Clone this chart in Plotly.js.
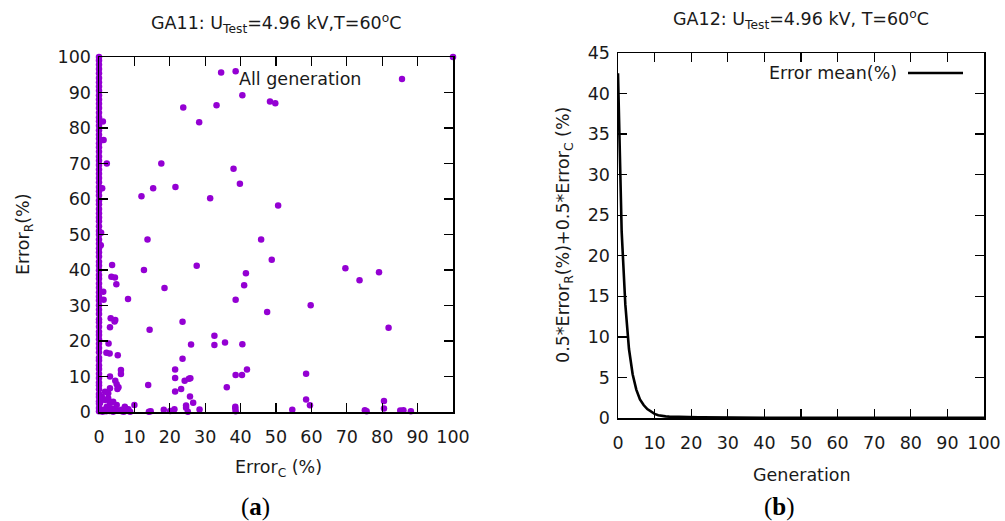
<!DOCTYPE html>
<html>
<head>
<meta charset="utf-8">
<script src="https://cdn.plot.ly/plotly-3.0.1.min.js"></script>
<style>html,body{margin:0;padding:0;background:#fff;}#chart{width:1005px;height:521px;}</style>
</head>
<body>
<div id="chart"></div>
<script>
// ---- Panel (a): all generations, Error_C vs Error_R ----
// dense column of individuals with Error_C ~ 0
const colErrR = [0.2,1.1,2.3,3.0,4.2,5.1,6.4,7.5,8.3,9.6,10.8,12.1,13.2,14.5,15.3,16.8,18.0,19.2,20.5,21.7,22.6,24.0,25.3,26.1,27.6,28.8,30.1,31.4,32.5,33.7,35.0,36.2,37.5,38.6,39.9,41.2,42.3,43.8,45.0,46.1,47.4,48.6,49.9,51.0,52.3,53.7,54.8,56.0,57.2,58.5,59.6,61.0,62.2,63.4,64.7,65.9,67.1,68.3,69.6,70.8,72.0,73.3,74.6,75.7,77.0,78.1,79.4,80.6,81.9,83.0,84.3,85.6,86.8,88.0,89.2,90.5,91.7,92.9,94.1,95.4,96.6,97.8,99.0,100.0];
const colErrC = [0,0,0,0,0,0,0,0,0,0,0,0,0,0,0,0,0,0,0,0,0,0,0,0,0,0,0,0,0,0,0,0,0,0,0,0,0,0,0,0,0,0,0,0,0,0,0,0,0,0,0,0,0,0,0,0,0,0,0,0,0,0,0,0,0,0,0,0,0,0,0,0,0,0,0,0,0,0,0,0,0,0,0,0];

const errC = [34.5,38.6,100,40.5,23.8,33.2,48.3,49.8,28.3,17.6,38.0,12.0,15.3,21.6,39.8,31.4,50.6,13.7,45.8,48.8,
  1.1,1.3,2.2,0.9,0.6,0.5,
  3.7,12.7,27.6,69.6,73.6,79.1,41.5,41.0,3.5,4.5,4.9,1.2,1.3,8.2,18.5,38.6,59.8,47.5,81.8,3.3,4.6,4.4,3.1,14.3,23.6,32.6,32.6,35.6,40.5,26.0,2.7,2.1,3.0,5.3,23.6,21.5,41.8,58.5,6.2,6.2,3.1,21.5,25.8,25.4,38.6,40.4,24.2,4.6,5.0,5.5,5.2,13.9,36.1,23.2,21.5,25.7,58.5,26.6,80.5,59.6,10.0,38.5,38.5,24.6,24.6,80.5,
  14.1,14.6,18.3,20.1,21.3,25.1,28.4,38.6,54.6,75.1,75.6,85.1,86.0,88.1,8.3,7.3,8.8,6.5,5.5,4.5,3.6,2.2,1.2,0.8,1.7,2.6,3.1,4.0,5.0,0.3,2.6,1.7,3.1,2.0,3.0,1.0,6.4,7.0,4.0,2.8];
const errR = [95.6,96.0,100,89.2,85.8,86.4,87.5,87.0,81.6,70.0,68.5,60.8,63.0,63.4,64.3,60.2,58.2,48.6,48.6,42.9,
  81.8,76.6,70.0,63.0,50.5,47.0,
  41.4,40.0,41.2,40.5,37.1,39.4,39.1,35.7,38.1,37.9,36.0,33.9,31.6,31.8,34.9,31.6,30.1,28.2,23.7,26.4,25.9,25.5,23.9,23.2,25.4,21.5,18.9,19.6,19.1,19.0,19.3,16.7,16.5,16.0,15.0,12.0,12.0,10.8,11.8,10.7,10.0,9.6,9.5,9.4,10.4,10.4,8.8,8.8,7.8,7.0,6.5,7.6,7.0,6.5,5.8,4.4,3.5,2.6,3.1,1.9,2.0,1.5,1.0,1.8,1.2,1.0,
  0.1,0.2,0.6,0.3,0.8,0.1,0.7,0.2,0.6,0.5,0.2,0.4,0.5,0.2,0.8,1.5,0.1,0.2,0.4,0.6,1.0,1.5,0.6,4.3,3.4,3.9,2.5,2.9,2.0,2.5,5.3,5.7,6.7,0.2,0.3,0.1,0.6,0.1,0.1,0.5];

// ---- Panel (b): error mean per generation ----
const generation = [0,1,2,3,4,5,6,7,8,9,10,11,12,13,14,15,16,17,18,19,20,21,22,23,24,25,26,27,28,29,30,31,32,33,34,35,36,37,38,39,40,41,42,43,44,45,46,47,48,49,50,51,52,53,54,55,56,57,58,59,60,61,62,63,64,65,66,67,68,69,70,71,72,73,74,75,76,77,78,79,80,81,82,83,84,85,86,87,88,89,90,91,92,93,94,95,96,97,98,99,100];
const errorMean = [42.5,23.0,14.0,8.5,5.4,3.5,2.3,1.6,1.1,0.75,0.5,0.35,0.25,0.2,0.17,0.15,0.14,0.13,0.12,0.12,0.11,0.1,0.1,0.09,0.08,0.08,0.07,0.06,0.05,0.04,0.03,0.03,0.02,0.02,0.01,0.01,0.01,0.01,0.01,0.01,0.01,0.01,0.01,0.01,0.01,0.01,0.01,0.01,0.01,0.01,0.01,0.01,0.01,0.01,0.01,0.01,0.01,0.01,0.01,0.01,0.01,0.01,0.01,0.01,0.01,0.01,0.01,0.01,0.01,0.01,0.01,0.01,0.01,0.01,0.01,0.01,0.01,0.01,0.01,0.01,0.01,0.01,0.01,0.01,0.01,0.01,0.01,0.01,0.01,0.01,0.01,0.01,0.01,0.01,0.01,0.01,0.01,0.01,0.01,0.01,0.01];

const tickVals = [0,10,20,30,40,50,60,70,80,90,100];
const tickValsB = [0,5,10,15,20,25,30,35,40,45];

const PURPLE = '#9400D3';
const FONT = 'DejaVu Sans, sans-serif';
const TXT = '#1a1a1a';

const traces = [
  {x: colErrC, y: colErrR, type: 'scatter', mode: 'markers', xaxis: 'x', yaxis: 'y',
   marker: {color: PURPLE, size: 6.5}, cliponaxis: false, showlegend: false, hoverinfo: 'x+y'},
  {x: errC, y: errR, type: 'scatter', mode: 'markers', xaxis: 'x', yaxis: 'y',
   marker: {color: PURPLE, size: 6.5}, cliponaxis: false, showlegend: false, hoverinfo: 'x+y'},
  {x: generation, y: errorMean, type: 'scatter', mode: 'lines', xaxis: 'x2', yaxis: 'y2',
   line: {color: '#000', width: 2.6}, cliponaxis: false, showlegend: false}
];

function axis(extra) {
  return Object.assign({
    showgrid: false, zeroline: false, showline: true, linecolor: '#000', linewidth: 1.5,
    mirror: 'ticks', ticks: 'inside', ticklen: 9, tickwidth: 1.3, tickcolor: '#000',
    tickfont: {family: FONT, size: 17.5, color: TXT}, fixedrange: true
  }, extra);
}

const ann = (text, x, y, opts) => Object.assign({
  text, x, y, xref: 'paper', yref: 'paper', showarrow: false,
  xanchor: 'center', yanchor: 'middle', font: {family: FONT, size: 17.5, color: TXT}
}, opts || {});

const H = 521, W = 1005;
const px = v => v / W, py = v => 1 - v / H;

const layout = {
  width: W, height: H,
  margin: {l: 0, r: 0, t: 0, b: 0},
  paper_bgcolor: '#fff', plot_bgcolor: '#fff',
  showlegend: false,
  xaxis: axis({domain: [px(99), px(453)], range: [0, 100], tickvals: tickVals, anchor: 'y', ticklabelstandoff: 8}),
  yaxis: axis({domain: [py(412), py(57)], range: [0, 100], tickvals: tickVals, anchor: 'x', ticklabelstandoff: 3}),
  xaxis2: axis({domain: [px(618), px(984)], range: [0, 100], tickvals: tickVals, anchor: 'y2', ticklabelstandoff: 8}),
  yaxis2: axis({domain: [py(418), py(53)], range: [0, 45], tickvals: tickValsB, anchor: 'x2', ticklabelstandoff: 3}),
  annotations: [
    ann('GA11: U<sub>Test</sub>=4.96 kV,T=60<sup>o</sup>C', px(276), py(23)),
    ann('GA12: U<sub>Test</sub>=4.96 kV, T=60<sup>o</sup>C', px(801), py(20)),
    ann('Error<sub>C</sub> (%)', px(278), py(468)),
    ann('Generation', px(802), py(475)),
    ann('Error<sub>R</sub>(%)', px(24), py(235), {textangle: -90}),
    ann('0.5*Error<sub>R</sub>(%)+0.5*Error<sub>C</sub> (%)', px(564), py(235), {textangle: -90}),
    ann('All generation', px(300), py(79)),
    ann('Error mean(%)', px(833), py(73)),
    ann('(<b>a</b>)', px(255), py(507), {font: {family: 'Liberation Serif, serif', size: 25, color: '#000'}}),
    ann('(<b>b</b>)', px(779), py(507), {font: {family: 'Liberation Serif, serif', size: 25, color: '#000'}})
  ],
  shapes: [
    {type: 'circle', xref: 'paper', yref: 'paper', x0: px(398.8), x1: px(405.2), y0: py(82.2), y1: py(75.8),
     fillcolor: PURPLE, line: {width: 0}},
    {type: 'line', xref: 'paper', yref: 'paper', x0: px(908), x1: px(963), y0: py(73), y1: py(73),
     line: {color: '#000', width: 2.6}}
  ]
};

Plotly.newPlot('chart', traces, layout, {displayModeBar: false, staticPlot: true});
</script>
</body>
</html>
